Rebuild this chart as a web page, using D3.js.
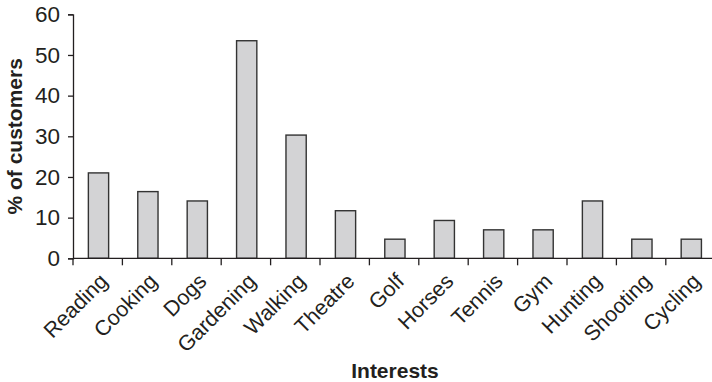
<!DOCTYPE html>
<html>
<head>
<meta charset="utf-8">
<script src="https://cdn.jsdelivr.net/npm/d3@7/dist/d3.min.js"></script>
<style>
  html, body { margin: 0; padding: 0; background: #fff; }
  svg { display: block; }
  text { font-family: "Liberation Sans", Arial, Helvetica, sans-serif; fill: #231f20; }
</style>
</head>
<body>
<svg id="chart" width="712" height="382"></svg>
<script>
// Share of customers by interest
const categories = ["Reading", "Cooking", "Dogs", "Gardening", "Walking", "Theatre",
                    "Golf", "Horses", "Tennis", "Gym", "Hunting", "Shooting", "Cycling"];
const percentages = [21, 16.4, 14.1, 53.5, 30.3, 11.7, 4.7, 9.3, 7.0, 7.0, 14.1, 4.7, 4.7];
const yTicks = [0, 10, 20, 30, 40, 50, 60];

const svg = d3.select("#chart");
const ink = "#231f20";

const plotLeft = 73, plotRight = 715.2, plotTop = 14.3, plotBottom = 258.3;

const x = d3.scaleBand().domain(categories).range([plotLeft, plotRight]).padding(0);
const y = d3.scaleLinear().domain([0, 60]).range([plotBottom, plotTop]);
const barW = x.bandwidth() * 0.41;

// bars
svg.append("g").selectAll("rect")
  .data(categories)
  .join("rect")
  .attr("x", (d) => x(d) + x.bandwidth() / 2 - barW / 2 + 0.8)
  .attr("y", (d, i) => y(percentages[i]))
  .attr("width", barW)
  .attr("height", (d, i) => y(0) - y(percentages[i]))
  .attr("fill", "#d3d3d5")
  .attr("stroke", "#333")
  .attr("stroke-width", 1.4);

// y axis
const yAxis = svg.append("g").attr("transform", `translate(${plotLeft},0)`)
  .call(d3.axisLeft(y).tickValues(yTicks).tickSize(5).tickPadding(8).tickFormat(d3.format("d")));
yAxis.select(".domain").attr("stroke", ink).attr("stroke-width", 1.3);
yAxis.selectAll(".tick line").attr("stroke", ink).attr("stroke-width", 1.3);
yAxis.selectAll(".tick text").attr("font-size", 22.5).attr("fill", ink)
  .style("font-family", '"Liberation Sans", Arial, sans-serif');

// x axis: ticks at band boundaries
const xg = svg.append("g");
xg.append("line").attr("x1", plotLeft).attr("x2", 712).attr("y1", plotBottom).attr("y2", plotBottom)
  .attr("stroke", ink).attr("stroke-width", 1.3);
xg.selectAll("line.tk").data(categories).join("line").attr("class", "tk")
  .attr("x1", (d) => x(d)).attr("x2", (d) => x(d))
  .attr("y1", plotBottom).attr("y2", plotBottom + 7)
  .attr("stroke", ink).attr("stroke-width", 1.3);

xg.selectAll("text").data(categories).join("text")
  .attr("transform", (d) => `translate(${x(d) + x.bandwidth() / 2 + 6},${plotBottom + 19}) rotate(-45)`)
  .attr("text-anchor", "end")
  .attr("dy", "0.35em")
  .attr("font-size", 21.5)
  .text((d) => d);

// axis titles
svg.append("text")
  .attr("transform", `translate(22,${(plotTop + plotBottom) / 2}) rotate(-90)`)
  .attr("text-anchor", "middle")
  .attr("font-size", 21).attr("font-weight", "bold")
  .text("% of customers");

svg.append("text")
  .attr("x", 395).attr("y", 378)
  .attr("text-anchor", "middle")
  .attr("font-size", 21).attr("font-weight", "bold")
  .text("Interests");
</script>
</body>
</html>
